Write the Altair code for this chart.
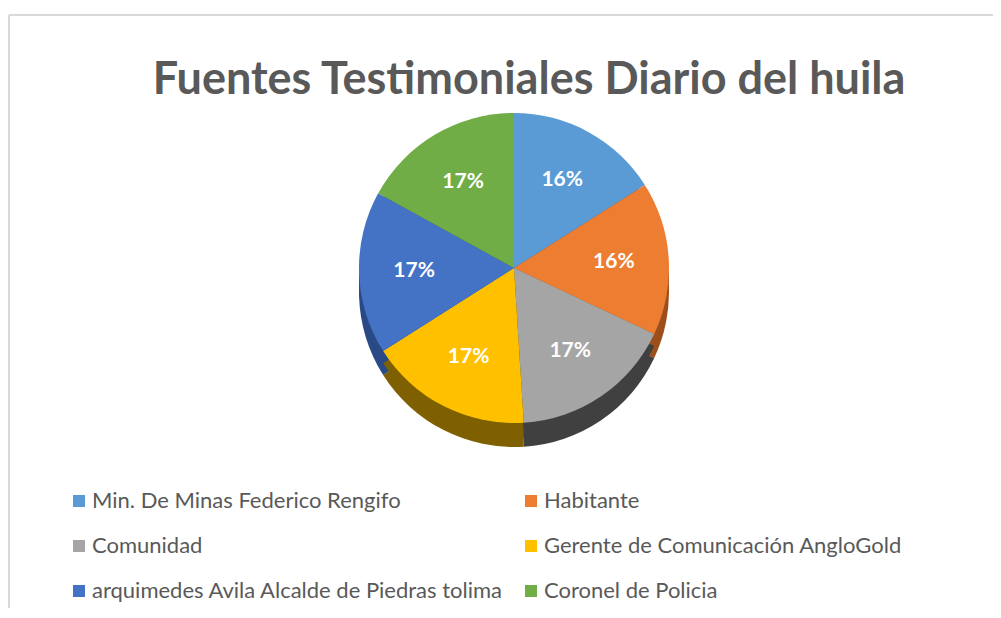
import altair as alt
import pandas as pd

categories = [
    "Min. De Minas Federico Rengifo",
    "Habitante",
    "Comunidad",
    "Gerente de Comunicación AngloGold",
    "arquimedes Avila Alcalde de Piedras tolima",
    "Coronel de Policia",
]
values = [16, 16, 17, 17, 17, 17]
labels = ["16%", "16%", "17%", "17%", "17%", "17%"]
colors = ["#5B9BD5", "#ED7D31", "#A5A5A5", "#FFC000", "#4472C4", "#70AD47"]
side_colors = ["#2F5D8A", "#9C4F1B", "#404040", "#7F6000", "#2A4A86", "#44702A"]
title_text = "Fuentes Testimoniales Diario del huila"

df = pd.DataFrame({"cat": categories, "value": values, "label": labels,
                   "order": list(range(len(categories)))})

CX, CY, R, DEPTH = 505, 253, 155, 24
FONT = "Lato"

base = alt.Chart(df)


def side_layer(dy):
    return base.mark_arc(radius=R, stroke=None).encode(
        theta=alt.Theta("value:Q", stack=True),
        color=alt.Color("cat:N", scale=alt.Scale(domain=categories, range=side_colors),
                        legend=None),
        order=alt.Order("order:Q"),
        x=alt.value(CX), y=alt.value(CY + dy),
    )


sides = alt.layer(side_layer(DEPTH), side_layer(DEPTH // 2))

top = base.mark_arc(radius=R, stroke=None).encode(
    theta=alt.Theta("value:Q", stack=True),
    color=alt.Color(
        "cat:N",
        scale=alt.Scale(domain=categories, range=colors),
        legend=alt.Legend(
            title=None, orient="none", legendX=59, legendY=475, columns=2,
            direction="horizontal",
            symbolType="square", symbolSize=144, symbolStrokeWidth=0,
            labelFont=FONT, labelFontSize=22, labelColor="#595959",
            rowPadding=23, columnPadding=16, labelOffset=2, labelLimit=600,
        ),
    ),
    order=alt.Order("order:Q"),
    x=alt.value(CX), y=alt.value(CY),
)

text = base.mark_text(radius=100, font=FONT, fontSize=21, fontWeight="bold",
                      color="white").encode(
    theta=alt.Theta("value:Q", stack=True),
    text="label:N",
    order=alt.Order("order:Q"),
    x=alt.value(CX), y=alt.value(CY),
)

pie = alt.layer(sides, top, text).resolve_scale(color="independent")

title_df = pd.DataFrame({"t": [title_text]})
title = alt.Chart(title_df).mark_text(font=FONT, fontSize=45, fontWeight="bold",
                                      color="#595959", align="center",
                                      baseline="alphabetic").encode(
    text="t:N", x=alt.value(520), y=alt.value(79))

one = pd.DataFrame({"k": [0]})
legend_bg = alt.Chart(one).mark_rect(color="white").encode(
    x=alt.value(59), x2=alt.value(949), y=alt.value(463), y2=alt.value(603))
left_border = alt.Chart(one).mark_rule(color="#d9d9d9", strokeWidth=2).encode(
    x=alt.value(0), y=alt.value(0), y2=alt.value(593))
top_border = alt.Chart(one).mark_rule(color="#d9d9d9", strokeWidth=2).encode(
    x=alt.value(0), x2=alt.value(984), y=alt.value(0))

chart = alt.layer(
    legend_bg, pie, title, left_border, top_border
).properties(
    width=984, height=593,
    padding={"left": 1, "top": 7, "right": 0, "bottom": 0},
    autosize="none",
).configure_view(stroke=None, fill="#f4f4f4").configure(background="white")

chart.save("out.html", embed_options={"renderer": "svg", "actions": False})
